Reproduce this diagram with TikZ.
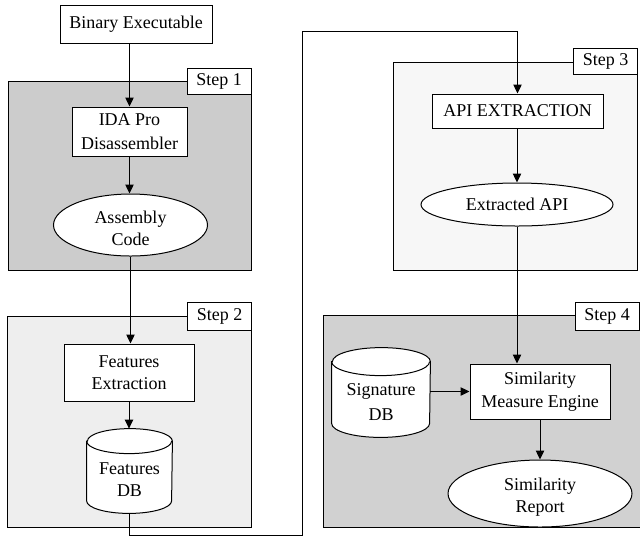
\documentclass[tikz,border=0pt]{standalone}
\usepackage{fontspec}
\setmainfont{Liberation Serif}
\usetikzlibrary{arrows.meta,shapes.geometric}
\definecolor{panelA}{gray}{0.80}
\definecolor{panelB}{gray}{0.935}
\definecolor{panelC}{gray}{0.968}
\definecolor{panelD}{gray}{0.82}
\begin{document}
\begin{tikzpicture}[x=0.5pt,y=-0.5pt,
  every node/.style={font=\fontsize{9pt}{11pt}\selectfont, inner sep=0pt, align=center},
  panel/.style={draw, line width=0.5pt, rectangle},
  steplabel/.style={draw, fill=white, line width=0.5pt, rectangle, minimum width=32pt, minimum height=13pt},
  procbox/.style={draw, fill=white, line width=0.5pt, rectangle},
  oval/.style={draw, fill=white, line width=0.5pt, ellipse},
  dbshape/.style={rectangle, draw=none},
  conn/.style={line width=0.5pt},
  arr/.style={line width=0.5pt, -{Triangle[length=4.5pt,width=4.2pt]}}
]
\useasboundingbox (0,0) rectangle (640,537);
\fill[white] (0,0) rectangle (640,537);

% panels
\node[panel, fill=panelA, minimum width=121.5pt, minimum height=94.5pt] (p1) at (129.5,175.5) {};
\node[panel, fill=panelB, minimum width=122pt, minimum height=105.5pt] (p2) at (129,421.5) {};
\node[panel, fill=panelC, minimum width=122pt, minimum height=104pt] (p3) at (515,166) {};
\node[panel, fill=panelD, minimum width=161pt, minimum height=106pt] (p4) at (484,421) {};

% step labels
\node[steplabel] (s1) at (219,81) {Step 1};
\node[steplabel, minimum height=14pt] (s2) at (219.5,316) {Step 2};
\node[steplabel] (s3) at (605.5,61) {Step 3};
\node[steplabel, minimum height=14pt] (s4) at (607,316) {Step 4};

% nodes
\node[procbox, minimum width=76pt, minimum height=19pt] (bin) at (136,24) {Binary Executable};
\node[procbox, minimum width=57.5pt, minimum height=24.5pt, font=\fontsize{9pt}{12pt}\selectfont] (ida) at (129.5,131.5) {IDA Pro\\Disassembler};
\node[oval, minimum width=77pt, minimum height=31pt] (asm) at (130.5,225) {};
\node at ([yshift=-1.75pt]asm.center) {Assembly\\Code};
\node[procbox, minimum width=65pt, minimum height=28.5pt] (fext) at (129,372.5) {Features\\Extraction};
\node[dbshape, minimum width=42.5pt, minimum height=42pt] (fdb) at (129.5,471) {};
\node[procbox, minimum width=85.5pt, minimum height=17pt] (api) at (517.5,111) {API EXTRACTION};
\node[oval, minimum width=96pt, minimum height=21.5pt] (exapi) at (517,204.5) {Extracted API};
\node[procbox, minimum width=70pt, minimum height=27.5pt, font=\fontsize{9pt}{11.5pt}\selectfont] (sme) at (540,391.5) {Similarity\\Measure Engine};
\node[dbshape, minimum width=49pt, minimum height=44.5pt] (sdb) at (381,392.5) {};
\node[oval, minimum width=92pt, minimum height=33.5pt] (rep) at (540,493.5) {};
\node at ([yshift=-2pt]rep.center) {Similarity\\Report};

% cylinders
\draw[line width=0.5pt, fill=white]
  ([yshift=-6.25pt]fdb.north west) -- ([yshift=6.25pt]fdb.south west)
  arc[start angle=180, end angle=360, x radius=21.25pt, y radius=6.25pt]
  -- ([yshift=-6.25pt]fdb.north east)
  arc[start angle=0, end angle=180, x radius=21.25pt, y radius=6.25pt] -- cycle;
\draw[line width=0.5pt] ([yshift=-6.25pt]fdb.north west)
  arc[start angle=180, end angle=360, x radius=21.25pt, y radius=6.25pt];
\node at ([yshift=-4.5pt]fdb.center) {Features\\DB};

\draw[line width=0.5pt, fill=white]
  ([yshift=-7pt]sdb.north west) -- ([yshift=7pt]sdb.south west)
  arc[start angle=180, end angle=360, x radius=24.5pt, y radius=7pt]
  -- ([yshift=-7pt]sdb.north east)
  arc[start angle=0, end angle=180, x radius=24.5pt, y radius=7pt] -- cycle;
\draw[line width=0.5pt] ([yshift=-7pt]sdb.north west)
  arc[start angle=180, end angle=360, x radius=24.5pt, y radius=7pt];
\node[font=\fontsize{9pt}{12.5pt}\selectfont] at ([yshift=-5pt]sdb.center) {Signature\\DB};

% connectors
\draw[arr] (bin.south -| ida.north) -- (ida.north);
\draw[arr] (ida.south) -- (ida.south |- asm.north);
\draw[arr] (asm.south) -- (asm.south |- fext.north);
\draw[arr] (fext.south) -- (fext.south |- fdb.north);
\coordinate (c1) at (129.5,535.5);
\coordinate (c2) at (302,535.5);
\coordinate (c3) at (302,31);
\coordinate (c4) at (517.5,31);
\draw[conn] (fdb.south) -- (c1) -- (c2) -- (c3) -- (c4);
\draw[arr] (c4) -- (api.north);
\draw[arr] (api.south -| exapi.south) -- (exapi.north);
\draw[arr] (exapi.south) -- (exapi.south |- sme.north);
\draw[arr] (sdb.east |- sme.west) -- (sme.west);
\draw[arr] (sme.south) -- (rep.north);
\end{tikzpicture}
\end{document}
